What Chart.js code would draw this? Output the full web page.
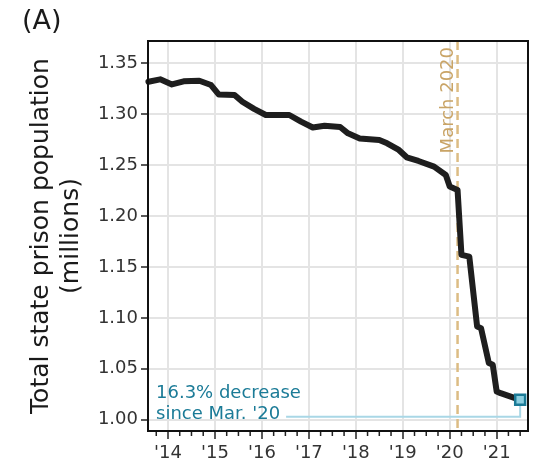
<!DOCTYPE html>
<html>
<head>
<meta charset="utf-8">
<script src="https://cdn.jsdelivr.net/npm/chart.js@4/dist/chart.umd.min.js"></script>
<style>
  html, body { margin: 0; padding: 0; background: #fff; }
  #wrap { width: 533px; height: 464px; }
</style>
</head>
<body>
<div id="wrap"><canvas id="prison-chart"></canvas></div>
<script>
// Total state prison population, millions (month, value)
const months = [
    '2013-08', '2013-11', '2014-02', '2014-05', '2014-09', '2014-12',
    '2015-02', '2015-06', '2015-08', '2015-11', '2016-02', '2016-08',
    '2016-11', '2017-02', '2017-05', '2017-09', '2017-11', '2018-02',
    '2018-07', '2018-09', '2018-12', '2019-02', '2019-05', '2019-09',
    '2019-12', '2020-01', '2020-03', '2020-04', '2020-06', '2020-08',
    '2020-09', '2020-11', '2020-12', '2021-01', '2021-02', '2021-07'
];
const population = [
    1.3316, 1.3340, 1.3290, 1.3320, 1.3326, 1.3284,
    1.3190, 1.3186, 1.3120, 1.3050, 1.2990, 1.2990,
    1.2925, 1.2868, 1.2885, 1.2872, 1.2810, 1.2760,
    1.2745, 1.2712, 1.2647, 1.2575, 1.2539, 1.2484,
    1.2402, 1.2288, 1.2255, 1.1618, 1.1600, 1.0915,
    1.0899, 1.0556, 1.0539, 1.0278, 1.0261, 1.0196
];
const yearTicks = [2014, 2015, 2016, 2017, 2018, 2019, 2020, 2021];
const valueTicks = [1.00, 1.05, 1.10, 1.15, 1.20, 1.25, 1.30, 1.35];

const marchMonth = '2020-03';
const marchLabel = 'March 2020';
const noteLines = ['16.3% decrease', "since Mar. '20"];
const noteLevel = 1.003;

const FONT = "'DejaVu Sans', sans-serif";
const TAN = '#dcbc84';
const TAN_TEXT = '#c9a466';
const TEAL = '#1b7b97';
const LIGHT_BLUE = '#a9d7e6';

const toYear = m => {
    const [y, mo] = m.split('-').map(Number);
    return y + (mo - 1) / 12;
};
const points = months.map((m, i) => ({ x: toYear(m), y: population[i] }));
const lastIdx = points.length - 1;

// dashed March line, note bracket, minor ticks and the frame
const refMarks = {
    id: 'refMarks',
    beforeDatasetsDraw(chart) {
        const { ctx, chartArea: a, scales: { x, y } } = chart;
        const mx = x.getPixelForValue(toYear(marchMonth));
        ctx.save();
        ctx.strokeStyle = TAN;
        ctx.lineWidth = 2.5;
        ctx.setLineDash([9, 5]);
        ctx.beginPath();
        ctx.moveTo(mx, a.top);
        ctx.lineTo(mx, a.bottom);
        ctx.stroke();
        ctx.setLineDash([]);

        ctx.translate(mx - 9, a.top + 6);
        ctx.rotate(-Math.PI / 2);
        ctx.fillStyle = TAN_TEXT;
        ctx.font = '18px ' + FONT;
        ctx.textAlign = 'right';
        ctx.textBaseline = 'middle';
        ctx.fillText(marchLabel, 0, 0);
        ctx.restore();

        // note text and the bracket running to the last point
        const by = y.getPixelForValue(noteLevel);
        const ex = x.getPixelForValue(points[lastIdx].x);
        const ey = y.getPixelForValue(points[lastIdx].y);
        ctx.save();
        ctx.font = '18px ' + FONT;
        ctx.fillStyle = TEAL;
        ctx.textAlign = 'left';
        ctx.textBaseline = 'alphabetic';
        const tx = a.left + 8;
        ctx.fillText(noteLines[0], tx, by - 19);
        ctx.fillText(noteLines[1], tx, by + 2);
        const tw = ctx.measureText(noteLines[1]).width;
        ctx.strokeStyle = LIGHT_BLUE;
        ctx.lineWidth = 2;
        ctx.beginPath();
        ctx.moveTo(tx + tw + 6, by);
        ctx.lineTo(ex, by);
        ctx.lineTo(ex, ey);
        ctx.stroke();
        ctx.restore();
    },
    afterDraw(chart) {
        const { ctx, chartArea: a, scales: { x } } = chart;
        ctx.save();
        ctx.strokeStyle = '#222';
        ctx.lineWidth = 1.5;
        ctx.beginPath();
        for (let q = Math.ceil(x.min * 4) / 4; q <= x.max; q += 0.25) {
            if (Number.isInteger(q)) continue;
            const px = x.getPixelForValue(q);
            ctx.moveTo(px, a.bottom);
            ctx.lineTo(px, a.bottom + 5);
        }
        ctx.stroke();
        ctx.strokeStyle = '#111';
        ctx.lineWidth = 2;
        ctx.strokeRect(a.left, a.top, a.right - a.left, a.bottom - a.top);
        ctx.restore();
    }
};

new Chart(document.getElementById('prison-chart').getContext('2d'), {
    type: 'line',
    data: {
        datasets: [{
            data: points,
            borderColor: '#1e1e1e',
            borderWidth: 6,
            borderJoinStyle: 'round',
            borderCapStyle: 'round',
            tension: 0,
            pointStyle: 'rect',
            pointRadius: c => c.dataIndex === lastIdx ? 7 : 0,
            pointHoverRadius: 0,
            pointBackgroundColor: '#8dcfe0',
            pointBorderColor: TEAL,
            pointBorderWidth: 2.5,
            clip: false,
        }]
    },
    options: {
        responsive: true,
        maintainAspectRatio: false,
        animation: false,
        layout: { autoPadding: false, padding: { left: 22, right: 5, top: 0, bottom: 0 } },
        plugins: {
            legend: { display: false },
            tooltip: { enabled: false },
            title: {
                display: true,
                text: '(A)',
                align: 'start',
                color: '#1a1a1a',
                font: { family: FONT, size: 27, weight: 'normal' },
                padding: { top: 6, bottom: 2.6 }
            }
        },
        scales: {
            x: {
                type: 'linear',
                min: 2013.574,
                max: 2021.667,
                afterBuildTicks: s => { s.ticks = yearTicks.map(v => ({ value: v })); },
                afterFit: s => {
                    s.height = 33;
                    s.paddingLeft = 0;
                    s.paddingRight = 0;
                },
                ticks: {
                    autoSkip: false,
                    maxRotation: 0,
                    padding: 4,
                    color: '#333',
                    font: { family: FONT, size: 18 },
                    callback: v => "'" + String(v).slice(2)
                },
                grid: {
                    color: '#e4e4e4',
                    lineWidth: 2,
                    tickLength: 8,
                    tickColor: '#222',
                    tickWidth: 1.5
                },
                border: { display: true, color: '#111', width: 2 }
            },
            y: {
                min: 0.989,
                max: 1.3716,
                afterBuildTicks: s => { s.ticks = valueTicks.map(v => ({ value: v })); },
                afterFit: s => {
                    s.width = 126;
                    s.paddingTop = 0;
                    s.paddingBottom = 0;
                },
                ticks: {
                    padding: 3,
                    color: '#333',
                    font: { family: FONT, size: 18 },
                    callback: v => Number(v).toFixed(2)
                },
                grid: {
                    color: '#e4e4e4',
                    lineWidth: 2,
                    tickLength: 7,
                    tickColor: '#222',
                    tickWidth: 1.5
                },
                border: { display: true, color: '#111', width: 2 },
                title: {
                    display: true,
                    text: ['Total state prison population', '(millions)'],
                    color: '#1a1a1a',
                    font: { family: FONT, size: 25, lineHeight: 1.2 },
                    padding: { top: 4, bottom: 0 }
                }
            }
        }
    },
    plugins: [refMarks]
});
</script>
</body>
</html>
